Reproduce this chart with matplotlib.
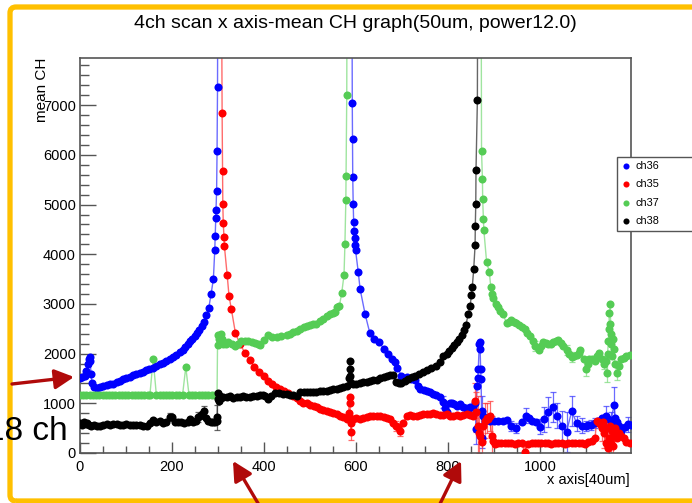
"""4ch scan: mean CH versus x position for ch35-ch38."""

import matplotlib

matplotlib.use("Agg")
import matplotlib.pyplot as plt
from matplotlib.lines import Line2D
from matplotlib.patches import FancyArrowPatch, FancyBboxPatch, Rectangle
from matplotlib.ticker import MultipleLocator, FixedLocator

plt.rcParams["font.family"] = ["Liberation Sans", "DejaVu Sans"]

W, H = 692, 503

TITLE = "4ch scan x axis-mean CH graph(50um, power12.0)"
X_LABEL = "x axis[40um]"
Y_LABEL = "mean CH"
X_TICKS = [0, 200, 400, 600, 800, 1000]
Y_TICKS = [0, 1000, 2000, 3000, 4000, 5000, 6000, 7000]
CHANNELS = ["ch36", "ch35", "ch37", "ch38"]

# (x position, mean CH); values far above the frame are saturated readings
CH36 = [
    (0, 1500), (5, 1520), (10, 1540), (14, 1650), (17, 1800), (19, 1900),
    (21, 1930), (22, 1850), (24, 1600), (26, 1400), (30, 1330), (36, 1300),
    (43, 1320), (50, 1340), (58, 1360), (65, 1380), (72, 1390), (80, 1420),
    (87, 1450), (94, 1480), (101, 1510), (108, 1530), (115, 1560), (122, 1580),
    (130, 1610), (137, 1640), (144, 1670), (151, 1690), (159, 1710), (166, 1750),
    (173, 1790), (180, 1820), (188, 1850), (195, 1890), (202, 1930), (209, 1980),
    (217, 2030), (224, 2080), (229, 2130), (234, 2190), (239, 2250), (244, 2300),
    (249, 2350), (254, 2410), (259, 2470), (265, 2560), (270, 2640), (275, 2770),
    (280, 2920), (285, 3200), (290, 3500), (293, 4080), (294, 4370), (295, 4730),
    (296, 4900), (297, 5270), (298, 6080), (299, 7360), (301, 15000),
    (350, 15000), (400, 15000), (450, 15000), (500, 15000), (550, 15000),
    (590, 15000), (592, 7040), (592.5, 6310), (593, 5550), (594, 5010),
    (595, 4650), (596, 4460), (597, 4320), (598, 4180), (599, 4090), (605, 3640),
    (609, 3300), (620, 2790), (630, 2420), (640, 2290), (651, 2230), (660, 2100),
    (670, 2000), (679, 1900), (685, 1840), (690, 1720), (699, 1550), (710, 1520),
    (719, 1490), (728, 1460), (735, 1350), (739, 1290), (747, 1270), (754, 1250),
    (761, 1220), (768, 1190), (775, 1160), (783, 1120), (790, 1020), (794, 900),
    (799, 820), (804, 1000), (808, 1010), (814, 980), (819, 950), (826, 990),
    (833, 920), (840, 900), (844, 850), (848, 920), (855, 920), (859, 1000),
    (861, 480), (863, 1350), (865, 1500), (866, 1690), (868, 2190), (869, 2230),
    (870, 2100), (871, 1700), (872, 1490), (873, 850), (874, 310), (877, 750),
    (884, 700), (891, 650), (900, 650), (909, 640), (920, 650), (929, 660),
    (938, 550), (949, 500), (960, 630), (970, 750), (976, 700), (982, 650),
    (991, 620), (1000, 530), (1009, 680), (1018, 820), (1029, 920), (1038, 750),
    (1047, 550), (1058, 430), (1069, 840), (1080, 600), (1091, 550), (1100, 550),
    (1105, 560), (1112, 560), (1120, 600), (1127, 650), (1135, 700), (1143, 750),
    (1148, 680), (1154, 620), (1161, 970), (1164, 700), (1167, 620), (1172, 550),
    (1177, 450), (1185, 520), (1192, 580), (1198, 560),
]
CH36_ERR = {
    790: 120, 794: 150, 861: 300, 873: 300, 874: 200, 938: 100, 949: 100,
    970: 150, 1000: 150, 1009: 250, 1018: 300, 1029: 300, 1038: 250,
    1047: 300, 1058: 400, 1069: 300, 1080: 150, 1091: 150, 1100: 100,
    1112: 100, 1120: 100, 1143: 200, 1154: 200, 1161: 350, 1192: 150,
}

CH35 = [
    (0, 15000), (100, 15000), (200, 15000), (305, 15000), (309, 6840),
    (310, 5680), (310.5, 5010), (311.5, 4630), (313, 4350), (314, 4160),
    (320, 3580), (324, 3160), (329, 2900), (338, 2410), (348, 2190), (359, 2010),
    (370, 1870), (379, 1730), (389, 1630), (399, 1550), (409, 1450), (418, 1380),
    (427, 1320), (435, 1290), (444, 1250), (453, 1200), (463, 1150), (472, 1100),
    (478, 1040), (485, 1010), (493, 1000), (500, 970), (508, 940), (515, 920),
    (522, 890), (529, 870), (536, 850), (543, 830), (550, 810), (558, 780),
    (565, 750), (572, 720), (580, 680), (584, 800), (586, 1130), (587, 1000),
    (588, 700), (589, 420), (590, 600), (594, 680), (601, 700), (609, 680),
    (616, 700), (623, 730), (630, 750), (638, 740), (645, 740), (652, 740),
    (660, 720), (667, 700), (674, 680), (681, 600), (688, 540), (692, 520),
    (696, 440), (702, 600), (710, 740), (717, 760), (724, 750), (732, 750),
    (739, 760), (746, 780), (754, 790), (761, 790), (768, 800), (775, 790),
    (783, 760), (790, 760), (797, 790), (804, 740), (812, 750), (819, 770),
    (826, 740), (833, 760), (841, 790), (848, 760), (855, 750), (859, 1050),
    (862, 820), (865, 540), (868, 400), (870, 340), (873, 220), (876, 540),
    (880, 650), (884, 700), (887, 680), (891, 750), (895, 340), (898, 250),
    (902, 180), (909, 210), (916, 200), (924, 200), (931, 210), (938, 200),
    (945, 190), (953, 200), (960, 200), (967, 20), (974, 190), (982, 200),
    (989, 210), (996, 200), (1003, 200), (1011, 210), (1018, 200), (1025, 190),
    (1033, 200), (1040, 200), (1047, 200), (1055, 190), (1062, 200), (1069, 200),
    (1076, 200), (1084, 210), (1091, 200), (1098, 190), (1105, 220), (1113, 250),
    (1120, 300), (1123, 650), (1127, 620), (1131, 580), (1135, 500), (1138, 620),
    (1140, 400), (1143, 200), (1146, 500), (1148, 100), (1150, 300), (1152, 550),
    (1154, 200), (1156, 450), (1158, 150), (1160, 350), (1163, 500), (1167, 300),
    (1172, 400), (1177, 350), (1182, 300), (1188, 220), (1195, 210),
]
CH35_ERR = {
    589: 150, 688: 100, 696: 100, 859: 350, 862: 400, 865: 600, 868: 400,
    873: 300, 876: 300, 880: 350, 884: 300, 891: 300, 895: 400, 967: 100,
    1135: 250, 1140: 300, 1148: 250, 1154: 300, 1158: 250,
}

CH37 = [
    (0, 1170), (7, 1170), (14, 1170), (21, 1170), (28, 1170), (35, 1170),
    (42, 1170), (49, 1170), (56, 1170), (63, 1170), (70, 1170), (77, 1170),
    (84, 1170), (91, 1170), (98, 1170), (105, 1170), (112, 1170), (119, 1170),
    (126, 1170), (133, 1170), (140, 1170), (147, 1170), (152, 1170), (159, 1890),
    (166, 1170), (173, 1170), (180, 1170), (187, 1170), (194, 1170), (201, 1170),
    (208, 1170), (215, 1170), (223, 1170), (230, 1730), (237, 1170), (244, 1170),
    (251, 1170), (258, 1170), (265, 1170), (272, 1170), (279, 1170), (286, 1170),
    (293, 1170), (298, 1170), (299, 2170), (301, 2370), (303, 2300), (306, 2390),
    (309, 2300), (312, 2190), (317, 2200), (322, 2230), (330, 2190), (337, 2160),
    (344, 2200), (351, 2260), (358, 2250), (366, 2260), (373, 2240), (380, 2210),
    (386, 2190), (391, 2170), (400, 2280), (409, 2370), (418, 2340), (428, 2330),
    (438, 2350), (449, 2370), (456, 2400), (464, 2430), (471, 2460), (478, 2500),
    (486, 2530), (493, 2560), (500, 2580), (507, 2600), (514, 2600), (522, 2660),
    (529, 2700), (536, 2760), (543, 2790), (550, 2810), (555, 2830), (559, 2930),
    (564, 2960), (569, 3220), (574, 3580), (576, 4200), (578, 5090),
    (578.5, 5580), (580, 7210), (582, 15000), (650, 15000), (750, 15000),
    (850, 15000), (871, 15000), (873, 6080), (875, 5510), (875.5, 5110),
    (877, 4710), (878, 4490), (884, 3850), (890, 3640), (893, 3350), (896, 3200),
    (898, 3110), (904, 3000), (909, 2930), (914, 2860), (919, 2800), (928, 2610),
    (933, 2640), (938, 2680), (944, 2640), (949, 2610), (955, 2570), (960, 2530),
    (967, 2490), (972, 2420), (978, 2350), (984, 2250), (989, 2160), (998, 2080),
    (1003, 2150), (1007, 2240), (1013, 2210), (1018, 2190), (1024, 2200),
    (1029, 2240), (1035, 2260), (1040, 2270), (1046, 2220), (1051, 2160),
    (1059, 2080), (1064, 2000), (1069, 1930), (1075, 1950), (1080, 1970),
    (1084, 2020), (1088, 2070), (1095, 1900), (1100, 1690), (1104, 1800),
    (1107, 1890), (1113, 1900), (1120, 1860), (1125, 1950), (1129, 2020),
    (1135, 1900), (1139, 1790), (1143, 1850), (1145, 1620), (1147, 2000),
    (1149, 2260), (1150, 2500), (1151, 2810), (1152, 2600), (1153, 3000),
    (1154, 2400), (1155, 2200), (1156, 1950), (1158, 2300), (1160, 2100),
    (1163, 1800), (1167, 1620), (1172, 1750), (1177, 1890), (1183, 1920),
    (1188, 1950), (1196, 1970),
]
CH37_ERR = {
    989: 100, 1059: 100, 1069: 100, 1100: 150, 1139: 100, 1145: 200, 1167: 150,
}

CH38 = [
    (0, 600), (4, 560), (8, 620), (12, 580), (16, 600), (20, 560), (25, 540),
    (30, 560), (36, 550), (43, 540), (50, 560), (58, 580), (65, 570), (72, 590),
    (80, 580), (87, 560), (94, 570), (101, 580), (108, 570), (115, 560),
    (122, 570), (130, 560), (137, 540), (145, 540), (152, 600), (159, 670),
    (166, 620), (173, 650), (180, 600), (188, 620), (195, 720), (199, 720),
    (206, 630), (213, 620), (220, 630), (227, 610), (234, 620), (239, 680),
    (246, 620), (252, 650), (257, 720), (261, 750), (265, 780), (270, 850),
    (275, 700), (279, 650), (285, 620), (290, 630), (294, 620), (297, 650),
    (298, 720), (299, 1090), (300, 1200), (302, 1050), (304, 1150), (307, 1100),
    (312, 1120), (319, 1130), (326, 1140), (333, 1100), (341, 1120), (348, 1120),
    (355, 1140), (362, 1130), (370, 1120), (377, 1140), (384, 1150), (391, 1160),
    (398, 1170), (403, 1150), (409, 1090), (416, 1150), (424, 1210), (433, 1200),
    (442, 1190), (450, 1180), (457, 1170), (464, 1160), (471, 1150), (478, 1220),
    (486, 1230), (493, 1220), (500, 1220), (507, 1220), (514, 1230), (522, 1240),
    (529, 1250), (536, 1250), (543, 1270), (550, 1280), (558, 1290), (565, 1310),
    (572, 1330), (580, 1350), (585, 1500), (586, 1860), (587, 1700), (588, 1550),
    (589, 1400), (594, 1380), (601, 1390), (608, 1410), (616, 1420), (623, 1430),
    (630, 1450), (638, 1460), (645, 1470), (652, 1500), (660, 1520), (667, 1540),
    (674, 1560), (681, 1570), (688, 1420), (694, 1410), (699, 1410), (707, 1450),
    (714, 1490), (721, 1520), (728, 1550), (737, 1600), (746, 1640), (755, 1680),
    (764, 1720), (773, 1760), (783, 1840), (790, 1950), (797, 2000), (803, 2060),
    (808, 2120), (814, 2180), (819, 2240), (825, 2300), (830, 2380), (835, 2470),
    (839, 2570), (844, 2800), (848, 2950), (851, 3170), (853, 3350), (856, 3700),
    (859, 4180), (859.5, 4570), (860.5, 5020), (861, 5690), (864, 7100),
    (866, 15000), (950, 15000), (1050, 15000), (1150, 15000), (1200, 15000),
]
CH38_ERR = {195: 80, 257: 100, 270: 100, 298: 250}

SERIES = [
    (CH36, CH36_ERR, "#0000ff", "#3a3aff"),
    (CH35, CH35_ERR, "#ff0000", "#ff3a3a"),
    (CH37, CH37_ERR, "#55cc55", "#7fdc7f"),
    (CH38, CH38_ERR, "#000000", "#333333"),
]


def px(x, y):
    """Pixel position (from top-left) to inches for fig.dpi_scale_trans."""
    return x / 100.0, (H - y) / 100.0


fig = plt.figure(figsize=(W / 100, H / 100), dpi=100)
fig.patch.set_facecolor("white")

ax = fig.add_axes([80 / W, 1 - 453 / H, 551 / W, 395 / H])
for points, errs, color, line_color in SERIES:
    xs = [p[0] for p in points]
    ys = [p[1] for p in points]
    yerr = [errs.get(x, 0) for x in xs]
    ax.plot(xs, ys, color=line_color, lw=1.0, alpha=0.75, zorder=2)
    ax.errorbar(xs, ys, yerr=yerr, fmt="none", ecolor=line_color, elinewidth=0.9,
                capsize=2, capthick=0.9, alpha=0.75, zorder=2)
    ax.plot(xs, ys, "o", color=color, ms=5.8, mew=0, zorder=3)

ax.set_xlim(0, 1198)
ax.set_ylim(0, 7950)
ax.xaxis.set_major_locator(FixedLocator(X_TICKS))
ax.xaxis.set_minor_locator(MultipleLocator(50))
ax.yaxis.set_major_locator(FixedLocator(Y_TICKS))
ax.yaxis.set_minor_locator(MultipleLocator(200))
ax.tick_params(axis="both", which="both", direction="in", color="#555555",
               width=1.0, labelsize=10.5, top=False, right=False)
ax.tick_params(axis="x", which="major", length=8, pad=5)
ax.tick_params(axis="x", which="minor", length=5)
ax.tick_params(axis="y", which="major", length=11.5, pad=3)
ax.tick_params(axis="y", which="minor", length=6.5)
for spine in ax.spines.values():
    spine.set_color("#555555")
    spine.set_linewidth(1.2)

fig.text(355 / W, 1 - 23 / H, TITLE, ha="center", va="center", fontsize=14)
fig.text(42 / W, 1 - 58 / H, Y_LABEL, rotation=90, ha="center", va="top",
         fontsize=11)
fig.text(630 / W, 1 - 480 / H, X_LABEL, ha="right", va="center", fontsize=10.5)

# legend box, partly running off the right edge
tr = fig.dpi_scale_trans
x0, y0 = px(617, 231)
fig.add_artist(Rectangle((x0, y0), 1.0, 0.74, transform=tr, facecolor="white",
                         edgecolor="#555555", lw=1.0, zorder=5))
for i, (name, (_, _, color, _)) in enumerate(zip(CHANNELS, SERIES)):
    ly = 166 + i * 18.3
    mx, my = px(626, ly)
    fig.add_artist(Line2D([mx], [my], transform=tr, marker="o", ms=4.4, mew=0,
                          color=color, zorder=6))
    fig.text(636 / W, 1 - ly / H, name, ha="left", va="center", fontsize=7.8,
             zorder=6)

# slide frame and annotations
fig.add_artist(FancyBboxPatch(px(10, 501), 8.5, (501 - 7) / 100,
                              boxstyle="round,pad=0,rounding_size=0.06",
                              transform=tr, facecolor="none",
                              edgecolor="#ffc000", lw=3.8, zorder=7))
for tail, tip in [((12, 384), (74, 377)), ((262, 510), (233, 461)),
                  ((437, 510), (461, 461))]:
    fig.add_artist(FancyArrowPatch(px(*tail), px(*tip), transform=tr,
                                   arrowstyle="-|>,head_length=0.58,head_width=0.3",
                                   mutation_scale=20, color="#b00a0a", lw=2.4,
                                   shrinkA=0, shrinkB=0, zorder=8))
fig.text(68 / W, 1 - 440 / H, "18 ch", ha="right", va="baseline", fontsize=24,
         zorder=8)

fig.savefig("out.png", dpi=100)
